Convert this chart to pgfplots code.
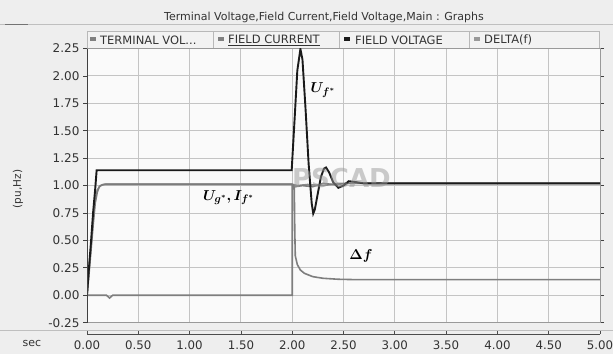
\documentclass[border=0pt]{standalone}
\usepackage{pgfplots}
\pgfplotsset{compat=1.18}
\usepackage{fontspec}
\usepackage{bm}
\setmainfont{DejaVu Sans}
\definecolor{bg}{HTML}{EEEEEE}
\definecolor{plotbg}{HTML}{FAFAFA}
\definecolor{gridc}{HTML}{C4C4C4}
\definecolor{grayline}{HTML}{8A8A8A}
\definecolor{dfline}{HTML}{7E7E7E}
\definecolor{blk}{HTML}{1A1A1A}
\definecolor{txt}{HTML}{333333}

\pgfplotstableread{
t v
0 0
0.02 0.26
0.04 0.50
0.06 0.76
0.08 0.97
0.094 1.14
1.995 1.14
2.02 1.55
2.05 2.05
2.08 2.245
2.10 2.15
2.13 1.70
2.16 1.20
2.19 0.84
2.205 0.745
2.22 0.78
2.25 0.93
2.28 1.08
2.31 1.155
2.33 1.165
2.36 1.12
2.40 1.03
2.45 0.98
2.50 1.00
2.55 1.04
2.60 1.035
2.70 1.02
5.00 1.02
}\fieldvoltage

\pgfplotstableread{
t v
0 0
0.02 0.20
0.04 0.42
0.06 0.64
0.08 0.84
0.10 0.94
0.12 0.99
0.15 1.008
0.18 1.012
2.00 1.012
2.03 0.99
2.10 1.00
2.20 0.99
2.30 1.02
2.40 1.01
2.55 1.02
5.00 1.02
}\fieldcurrent

\pgfplotstableread{
t v
0 0
0.02 0.24
0.04 0.46
0.06 0.70
0.08 0.88
0.10 0.96
0.13 1.00
0.17 1.012
2.00 1.012
2.05 1.00
2.15 1.01
2.30 1.00
2.45 1.02
5.00 1.02
}\termvoltage

\pgfplotstableread{
t v
0 0
0.19 0
0.22 -0.025
0.25 0
2.00 0
2.00 1.00
2.02 1.00
2.025 0.60
2.03 0.36
2.05 0.28
2.08 0.23
2.12 0.20
2.20 0.17
2.30 0.155
2.45 0.146
2.60 0.143
5.00 0.143
}\deltaf

\begin{document}
\begin{tikzpicture}[x=1pt,y=1pt]
\fill[bg] (0,0) rectangle (613,354);
\useasboundingbox (0,0) rectangle (613,354);
% title
\node[font=\fontsize{11}{13}\selectfont, text=txt] at (324,337) {Terminal Voltage,Field Current,Field Voltage,Main : Graphs};
\draw[black!25, line width=0.8pt] (0,329.5) -- (613,329.5);
\draw[black!55, line width=1pt] (5,329.5) -- (28,329.5);
% legend bar
\fill[black!5] (87,306) rectangle (599,322.3);
\draw[black!28, line width=0.8pt] (87,306) rectangle (599,322.3);
\foreach \xs in {213,339,469} {\draw[black!28, line width=0.8pt] (\xs,306) -- (\xs,322.3);}
\begin{scope}[font=\fontsize{11.5}{13}\selectfont, text=txt]
\fill[black!50] (90,312.5) rectangle (96,316.5);
\node[anchor=west, inner sep=0pt] at (100,314) {TERMINAL VOL...};
\fill[black!50] (218,312.5) rectangle (224,316.5);
\node[anchor=west, inner sep=0pt] at (228,314) {\underline{FIELD CURRENT}};
\fill[black!90] (344,312.5) rectangle (350,316.5);
\node[anchor=west, inner sep=0pt] at (355,314) {FIELD VOLTAGE};
\fill[black!40] (474,312.5) rectangle (480,316.5);
\node[anchor=west, inner sep=0pt] at (484,314) {DELTA(f)};
\end{scope}
% axis labels
\node[rotate=90, font=\fontsize{10.5}{12}\selectfont, text=txt] at (18,165) {(pu,Hz)};
\node[font=\fontsize{11}{12}\selectfont, text=txt] at (32,11) {sec};
\draw[black!25, line width=0.8pt] (0,23.3) -- (613,23.3);

\begin{axis}[
  at={(87pt,31.3pt)}, anchor=south west,
  scale only axis, width=513pt, height=274.2pt,
  xmin=0, xmax=5, ymin=-0.25, ymax=2.25,
  xtick={0,0.5,1,1.5,2,2.5,3,3.5,4,4.5,5},
  x tick label style={opacity=0},
  ytick={-0.25,0,0.25,0.5,0.75,1,1.25,1.5,1.75,2,2.25},
  grid=major,
  major grid style={draw=gridc, line width=1pt},
  axis line style={draw=black!40, line width=0.8pt},
  axis background/.style={fill=plotbg},
  tick align=outside, major tick length=4pt,
  xtick style={draw=none},
  ytick style={draw=black!75, line width=0.8pt},
  yticklabel style={font=\fontsize{12}{13}\selectfont, text=txt,
    /pgf/number format/.cd, fixed, fixed zerofill, precision=2, assume math mode=true},
  clip=true,
]
\addplot[dfline, line width=1.6pt] table[x=t,y=v] {\deltaf};
\addplot[grayline, line width=1.6pt] table[x=t,y=v] {\termvoltage};
\addplot[grayline!90!black, line width=1.6pt] table[x=t,y=v] {\fieldcurrent};
\addplot[blk, line width=1.9pt] table[x=t,y=v] {\fieldvoltage};
\node[font=\fontsize{26}{28}\bfseries, text=black!40, opacity=0.5] at (axis cs:2.48,1.07) {PSCAD};
\node at (axis cs:2.30,1.87) {\fontsize{15}{16}\selectfont $\bm{U_{f^*}}$};
\node at (axis cs:1.38,0.89) {\fontsize{15}{16}\selectfont $\bm{U_{g^*}, I_{f^*}}$};
\node at (axis cs:2.67,0.36) {\fontsize{15}{16}\selectfont $\bm{\Delta f}$};
\draw[black!75, line width=1pt] (rel axis cs:0,0) -- (rel axis cs:0,1);
\end{axis}

\begin{axis}[
  at={(87pt,20pt)}, anchor=south west,
  scale only axis, width=513pt, height=5pt,
  xmin=0, xmax=5, ymin=0, ymax=1,
  axis x line*=bottom, axis y line=none,
  axis line style={-, draw=black!70, line width=0.8pt},
  xtick={0,0.5,1,1.5,2,2.5,3,3.5,4,4.5,5},
  tick align=inside, major tick length=3pt,
  xtick style={draw=black!70, line width=0.8pt},
  xticklabel style={font=\fontsize{11.8}{13}\selectfont, text=txt, yshift=-3pt,
    /pgf/number format/.cd, fixed, fixed zerofill, precision=2, assume math mode=true},
]
\end{axis}
\end{tikzpicture}
\end{document}
